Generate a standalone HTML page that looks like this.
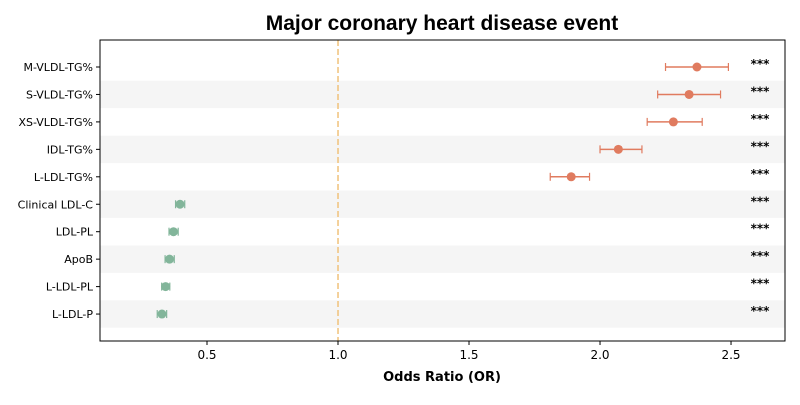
<!DOCTYPE html>
<html><head><meta charset="utf-8"><style>
body{margin:0;background:#fff;font-family:"Liberation Sans","DejaVu Sans",sans-serif}
</style></head><body>
<svg id="c" width="800" height="400" font-family="DejaVu Sans, Liberation Sans, sans-serif"></svg>
<script>
const labels=["M-VLDL-TG%","S-VLDL-TG%","XS-VLDL-TG%","IDL-TG%","L-LDL-TG%","Clinical LDL-C","LDL-PL","ApoB","L-LDL-PL","L-LDL-P"];
const orVals=[2.37,2.34,2.28,2.07,1.89,0.397,0.372,0.357,0.342,0.328];
const lowVals=[2.25,2.22,2.18,2.00,1.81,0.38,0.355,0.34,0.327,0.31];
const highVals=[2.49,2.46,2.39,2.16,1.96,0.415,0.39,0.375,0.358,0.346];
const sig=["***","***","***","***","***","***","***","***","***","***"];
const xTicks=[0.5,1.0,1.5,2.0,2.5];
const NS="http://www.w3.org/2000/svg",svg=document.getElementById('c');
const L=100,R=785,T=40,B=341,x0=0.0916,x1=2.706;
const X=v=>L+(v-x0)/(x1-x0)*(R-L);
const Y=i=>67+i*27.45;
function el(t,a,p){const e=document.createElementNS(NS,t);for(const k in a)e.setAttribute(k,a[k]);(p||svg).appendChild(e);return e;}
const title=el('text',{x:442,y:30,'text-anchor':'middle','font-size':21,'font-weight':'bold',fill:'#000','font-family':'Liberation Sans, Arial, sans-serif'});title.textContent='Major coronary heart disease event';


labels.forEach((l,i)=>{
 if(i%2==1){const b=el('rect',{x:L,y:Y(i)-13.7,width:R-L,height:27.4,fill:'#f5f5f5'});
 
 }
});
const ref=el('line',{x1:X(1),x2:X(1),y1:T,y2:B,stroke:'#f0c27b','stroke-width':1.5,'stroke-dasharray':'6,3'});


labels.forEach((l,i)=>{
 const y=Y(i),col=orVals[i]>1?'#e07b5f':'#82b59a';
 const g=el('g',{});
 
 
 el('line',{x1:X(lowVals[i]),x2:X(highVals[i]),y1:y,y2:y,stroke:col,'stroke-width':1.5},g);
 el('line',{x1:X(lowVals[i]),x2:X(lowVals[i]),y1:y-4,y2:y+4,stroke:col,'stroke-width':1.2},g);
 el('line',{x1:X(highVals[i]),x2:X(highVals[i]),y1:y-4,y2:y+4,stroke:col,'stroke-width':1.2},g);
 el('circle',{cx:X(orVals[i]),cy:y,r:4.5,fill:col},g);
 const t=el('text',{x:93,y:y+4,'text-anchor':'end','font-size':11,fill:'#000'});t.textContent=l;
 
 
 el('line',{x1:96,x2:100,y1:y,y2:y,stroke:'#000'});
 const s=el('text',{x:760,y:y+1,'text-anchor':'middle','font-size':12,'font-weight':'bold',fill:'#000'});s.textContent=sig[i];
 
 
});
const frame=el('rect',{x:L,y:T,width:R-L,height:B-T,fill:'none',stroke:'#000','stroke-width':1});


xTicks.forEach(v=>{
 el('line',{x1:X(v),x2:X(v),y1:B,y2:B+4,stroke:'#000'});
 const t=el('text',{x:X(v),y:B+18,'text-anchor':'middle','font-size':12,fill:'#000'});t.textContent=v.toFixed(1);
 
 
});
const xt=el('text',{x:442,y:381,'text-anchor':'middle','font-size':13,'font-weight':'bold',fill:'#000'});xt.textContent='Odds Ratio (OR)';


</script>
</body></html>
